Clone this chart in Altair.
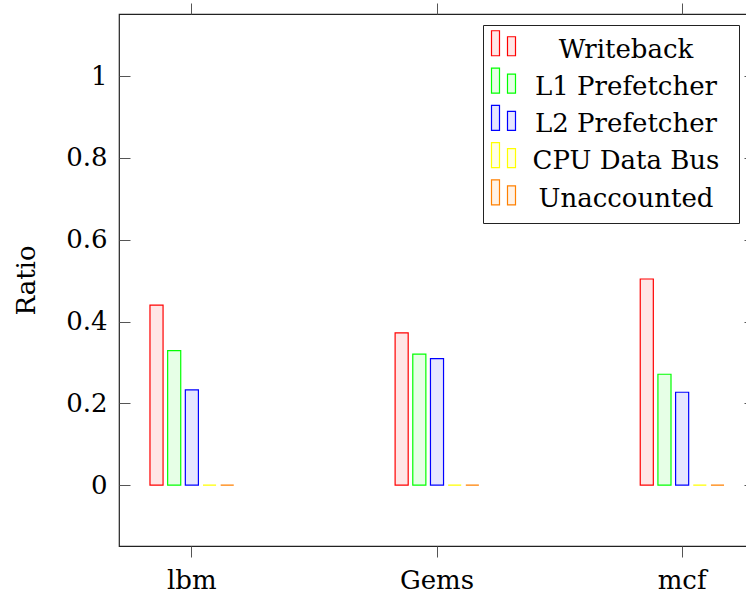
import altair as alt
import pandas as pd

benchmarks = ["lbm", "Gems", "mcf"]
series = ["Writeback", "L1 Prefetcher", "L2 Prefetcher", "CPU Data Bus", "Unaccounted"]
writeback = [0.44, 0.372, 0.504]
l1_prefetcher = [0.329, 0.320, 0.271]
l2_prefetcher = [0.233, 0.309, 0.227]
cpu_data_bus = [0.0, 0.0, 0.0]
unaccounted = [0.0, 0.0, 0.0]
stroke_colors = ["#ff0000", "#00ff00", "#0000ff", "#ffff00", "#ff8000"]
fill_colors = ["#ffe6e6", "#e6ffe6", "#e6e6ff", "#ffffe6", "#fff2e6"]
y_ticks = [0, 0.2, 0.4, 0.6, 0.8, 1]

rows = []
for s, vals in zip(series, [writeback, l1_prefetcher, l2_prefetcher, cpu_data_bus, unaccounted]):
    for b, v in zip(benchmarks, vals):
        rows.append({"bench": b, "series": s, "ratio": v})
df = pd.DataFrame(rows)

FONT = "DejaVu Serif"
FS = 26

xscale = alt.Scale(paddingInner=0.6395, paddingOuter=0.117)
xoff = alt.XOffset("series:N", sort=series, scale=alt.Scale(paddingInner=0.26, paddingOuter=0.13))
yscale = alt.Scale(domain=[-0.149, 1.152], nice=False, zero=False)

# two small bars, as in a pgfplots ybar legend image
legend_symbol = "M-1.28,-1.5H-0.64V0.5H-1.28Z M0,-1.02H0.64V0.5H0Z"

bars = alt.Chart(df).mark_bar(strokeWidth=1.2).encode(
    x=alt.X("bench:N", sort=benchmarks, scale=xscale,
            axis=alt.Axis(orient="bottom", title=None, labelAngle=0, tickSize=11,
                          labelPadding=10, domain=False)),
    xOffset=xoff,
    y=alt.Y("ratio:Q", scale=yscale,
            axis=alt.Axis(orient="left", values=y_ticks, format="~g", title="Ratio",
                          tickSize=11, offset=-11, labelPadding=12, titlePadding=26,
                          domain=False)),
    fill=alt.Fill("series:N", sort=series,
                  scale=alt.Scale(domain=series, range=fill_colors),
                  legend=alt.Legend(title="|")),
    stroke=alt.Stroke("series:N", sort=series,
                      scale=alt.Scale(domain=series, range=stroke_colors),
                      legend=alt.Legend(title="|")),
)

frame = alt.Chart(df).mark_bar(opacity=0).encode(
    x=alt.X("bench:N", sort=benchmarks, scale=xscale,
            axis=alt.Axis(orient="top", title=None, labels=False, tickSize=11, domain=False)),
    xOffset=xoff,
    y=alt.Y("ratio:Q", scale=yscale,
            axis=alt.Axis(orient="right", values=y_ticks, title=None, labels=False,
                          tickSize=11, offset=-11, domain=False)),
)

chart = alt.layer(bars, frame).resolve_axis(x="independent", y="independent").properties(
    width=636,
    height=532,
    autosize=alt.AutoSizeParams(type="none"),
    padding={"left": 119, "top": 14, "right": -9, "bottom": 54},
).configure_view(
    stroke="#222222", strokeWidth=1.2
).configure_axis(
    labelFont=FONT, labelFontSize=FS, labelColor="black",
    titleFont=FONT, titleFontSize=FS, titleFontWeight="normal", titleColor="black",
    tickColor="#555555", tickWidth=1, grid=False,
).configure_legend(
    orient="none", legendX=364, legendY=11,
    symbolType=legend_symbol, symbolSize=625, symbolStrokeWidth=1.2,
    labelFont=FONT, labelFontSize=FS, labelColor="black",
    labelAlign="center", labelOffset=105, labelLimit=400, labelBaseline="middle",
    titleOrient="right", titleColor="white", titleFontSize=10, titlePadding=6,
    strokeColor="#222222", fillColor="white", padding=11, rowPadding=2.3,
)

chart.save("out.html", embed_options={"renderer": "svg", "actions": False})
